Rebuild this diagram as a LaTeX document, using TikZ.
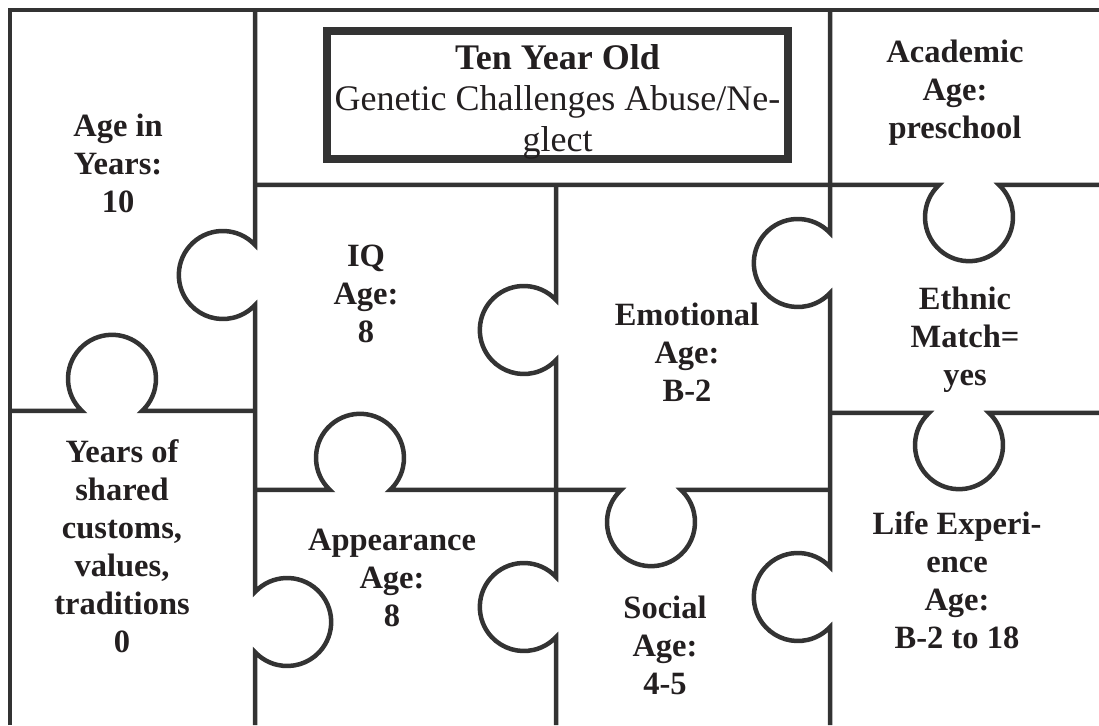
\documentclass[tikz,border=0pt]{standalone}
\usepackage{fontspec}
\setmainfont{Liberation Serif}
\definecolor{linec}{RGB}{51,51,51}
\definecolor{inkc}{RGB}{35,31,32}
\tikzset{
	wall/.style={draw=linec,line width=4.5pt,line join=miter},
	knob/.style={radius=44pt},
	piece/.style={align=center,text=inkc,font=\bfseries\fontsize{32.5}{38}\selectfont},
	titlebox/.style={draw=linec,line width=8pt,minimum width=461pt,minimum height=128pt},
	titletext/.style={align=center,text=inkc,font=\fontsize{36}{41}\selectfont},
}

\begin{document}
\begin{tikzpicture}[x=1pt,y=1pt]
		\useasboundingbox (0,0) rectangle (1099,725);
		
		% outer frame.....................
		\draw [wall] (10,0) -- (10,715) -- (1099,715);
		
		% column lines with knobs......................
		\draw [wall] (255,715) -- (255,480) arc [knob,start angle=43,end angle=317]
			-- (255,133) arc [knob,start angle=137,end angle=-137] -- (255,0);
		\draw [wall] (556,540) -- (556,425) arc [knob,start angle=43,end angle=317]
			-- (556,148) arc [knob,start angle=43,end angle=317] -- (556,0);
		\draw [wall] (830,715) -- (830,492) arc [knob,start angle=43,end angle=317]
			-- (830,158) arc [knob,start angle=43,end angle=317] -- (830,0);
		
		% row lines with knobs....................
		\draw [wall] (10,314) -- (82,314) arc [knob,start angle=227,end angle=-47] -- (255,314);
		\draw [wall] (255,540) -- (939,540) arc [knob,start angle=133,end angle=407] -- (1099,540);
		\draw [wall] (255,235) -- (330,235) arc [knob,start angle=227,end angle=-47]
			-- (621,235) arc [knob,start angle=133,end angle=407] -- (830,235);
		\draw [wall] (830,312) -- (929,312) arc [knob,start angle=133,end angle=407] -- (1099,312);
		
		% title box...................
		\node [titlebox] (title) at (557.5,630) {};
		\node [titletext] (titlelabel) at (557.5,623) {\textbf{Ten Year Old}\\Genetic Challenges Abuse/Ne-\\glect};
		
		% piece labels..............................
		\node [piece] (years) at (118,562) {Age in\\Years:\\10};
		\node [piece] (academic) at (955,632) {Academic\\Age:\\preschool};
		\node [piece] (iq) at (366,431) {IQ\\Age:\\8};
		\node [piece] (emotional) at (687,373) {Emotional\\Age:\\B-2};
		\node [piece] (ethnic) at (965,385) {Ethnic\\Match=\\yes};
		\node [piece] (customs) at (122,179) {Years of\\shared\\customs,\\values,\\traditions\\0};
		\node [piece] (appearance) at (392,147) {Appearance\\Age:\\8};
		\node [piece] (social) at (665,80) {Social\\Age:\\4-5};
		\node [piece] (life) at (957,145) {Life Experi-\\ence\\Age:\\B-2 to 18};
		
	\end{tikzpicture}
\end{document}
